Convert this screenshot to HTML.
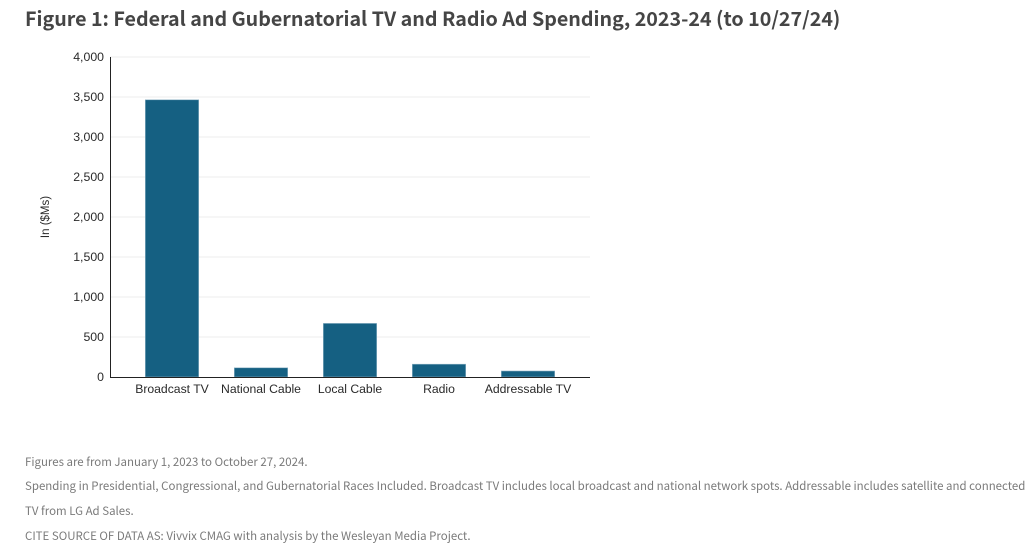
<!DOCTYPE html>
<html lang="en">
<head>
<meta charset="utf-8">
<title>Figure 1</title>
<style>
html,body{margin:0;padding:0;background:#fff;width:1036px;height:547px;overflow:hidden}
#figure-title{position:absolute;left:25px;top:3px;margin:0;font:700 19.67px/30px "Noto Sans CJK SC","Liberation Sans",sans-serif;color:#454545;white-space:nowrap}
#chart{position:absolute;left:0;top:0}
.note{position:absolute;left:25px;margin:0;font:400 11.47px/18px "Noto Sans CJK SC","Liberation Sans",sans-serif;color:#7a7a7a;white-space:nowrap}
text{font-family:"Liberation Sans",sans-serif;font-size:12px;fill:#2a2a2a}
</style>
</head>
<body>
<h1 id="figure-title">Figure 1: Federal and Gubernatorial TV and Radio Ad Spending, 2023-24 (to 10/27/24)</h1>
<svg id="chart" width="1036" height="440"></svg>
<p class="note" style="top:453px">Figures are from January 1, 2023 to October 27, 2024.</p>
<p class="note" style="top:477px">Spending in Presidential, Congressional, and Gubernatorial Races Included. Broadcast TV includes local broadcast and national network spots. Addressable includes satellite and connected</p>
<p class="note" style="top:502px">TV from LG Ad Sales.</p>
<p class="note" style="top:527px">CITE SOURCE OF DATA AS: Vivvix CMAG with analysis by the Wesleyan Media Project.</p>
<script>
const categories = ['Broadcast TV', 'National Cable', 'Local Cable', 'Radio', 'Addressable TV'];
const spending = [3465, 115, 670, 160, 75];
const yTicks = [0, 500, 1000, 1500, 2000, 2500, 3000, 3500, 4000];
const yMax = 4000;

const svg = document.getElementById('chart');
const NS = 'http://www.w3.org/2000/svg';
const plot = {left: 110, right: 590, top: 57, bottom: 377, inset: 17.5};

function yScale(v) {
  return plot.bottom - (v / yMax) * (plot.bottom - plot.top);
}
function bandStep() {
  return (plot.right - plot.left - 2 * plot.inset) / categories.length;
}
function xCenter(i) {
  return plot.left + plot.inset + bandStep() * (i + 0.5);
}
function make(tag, attrs, text) {
  const el = document.createElementNS(NS, tag);
  for (const k in attrs) el.setAttribute(k, attrs[k]);
  if (text !== undefined) el.textContent = text;
  svg.appendChild(el);
  return el;
}

yTicks.forEach(function (t) {
  const y = yScale(t);
  if (t > 0) {
    const grid = make('line', {x1: plot.left, x2: plot.right, y1: y, y2: y, stroke: '#eeeeee', 'stroke-width': 1});
    
    
  }
  const label = make('text', {x: plot.left - 6, y: y + 4, 'text-anchor': 'end', style: 'font-size:12.3px'}, t.toLocaleString('en-US'));
  
  
});

const barWidth = bandStep() * 0.6;
spending.forEach(function (v, i) {
  const bar = make('rect', {
    x: xCenter(i) - barWidth / 2,
    y: yScale(v),
    width: barWidth,
    height: yScale(0) - yScale(v),
    fill: '#156082',
    stroke: '#8fb3c6',
    'stroke-width': 0.6
  });
  
  
});

categories.forEach(function (c, i) {
  const label = make('text', {x: xCenter(i), y: 393, 'text-anchor': 'middle', style: 'font-size:12.2px'}, c);
  
  
});

const yAxis = make('line', {x1: plot.left + 0.5, x2: plot.left + 0.5, y1: plot.top, y2: plot.bottom, stroke: '#222', 'stroke-width': 1});



const xAxis = make('line', {x1: plot.left, x2: plot.right, y1: plot.bottom + 0.5, y2: plot.bottom + 0.5, stroke: '#222', 'stroke-width': 1});



const yTitle = make('text', {x: 49, y: 217, 'text-anchor': 'middle', transform: 'rotate(-90 49 217)', style: 'font-size:11.5px'}, 'In ($Ms)');


</script>
</body>
</html>
